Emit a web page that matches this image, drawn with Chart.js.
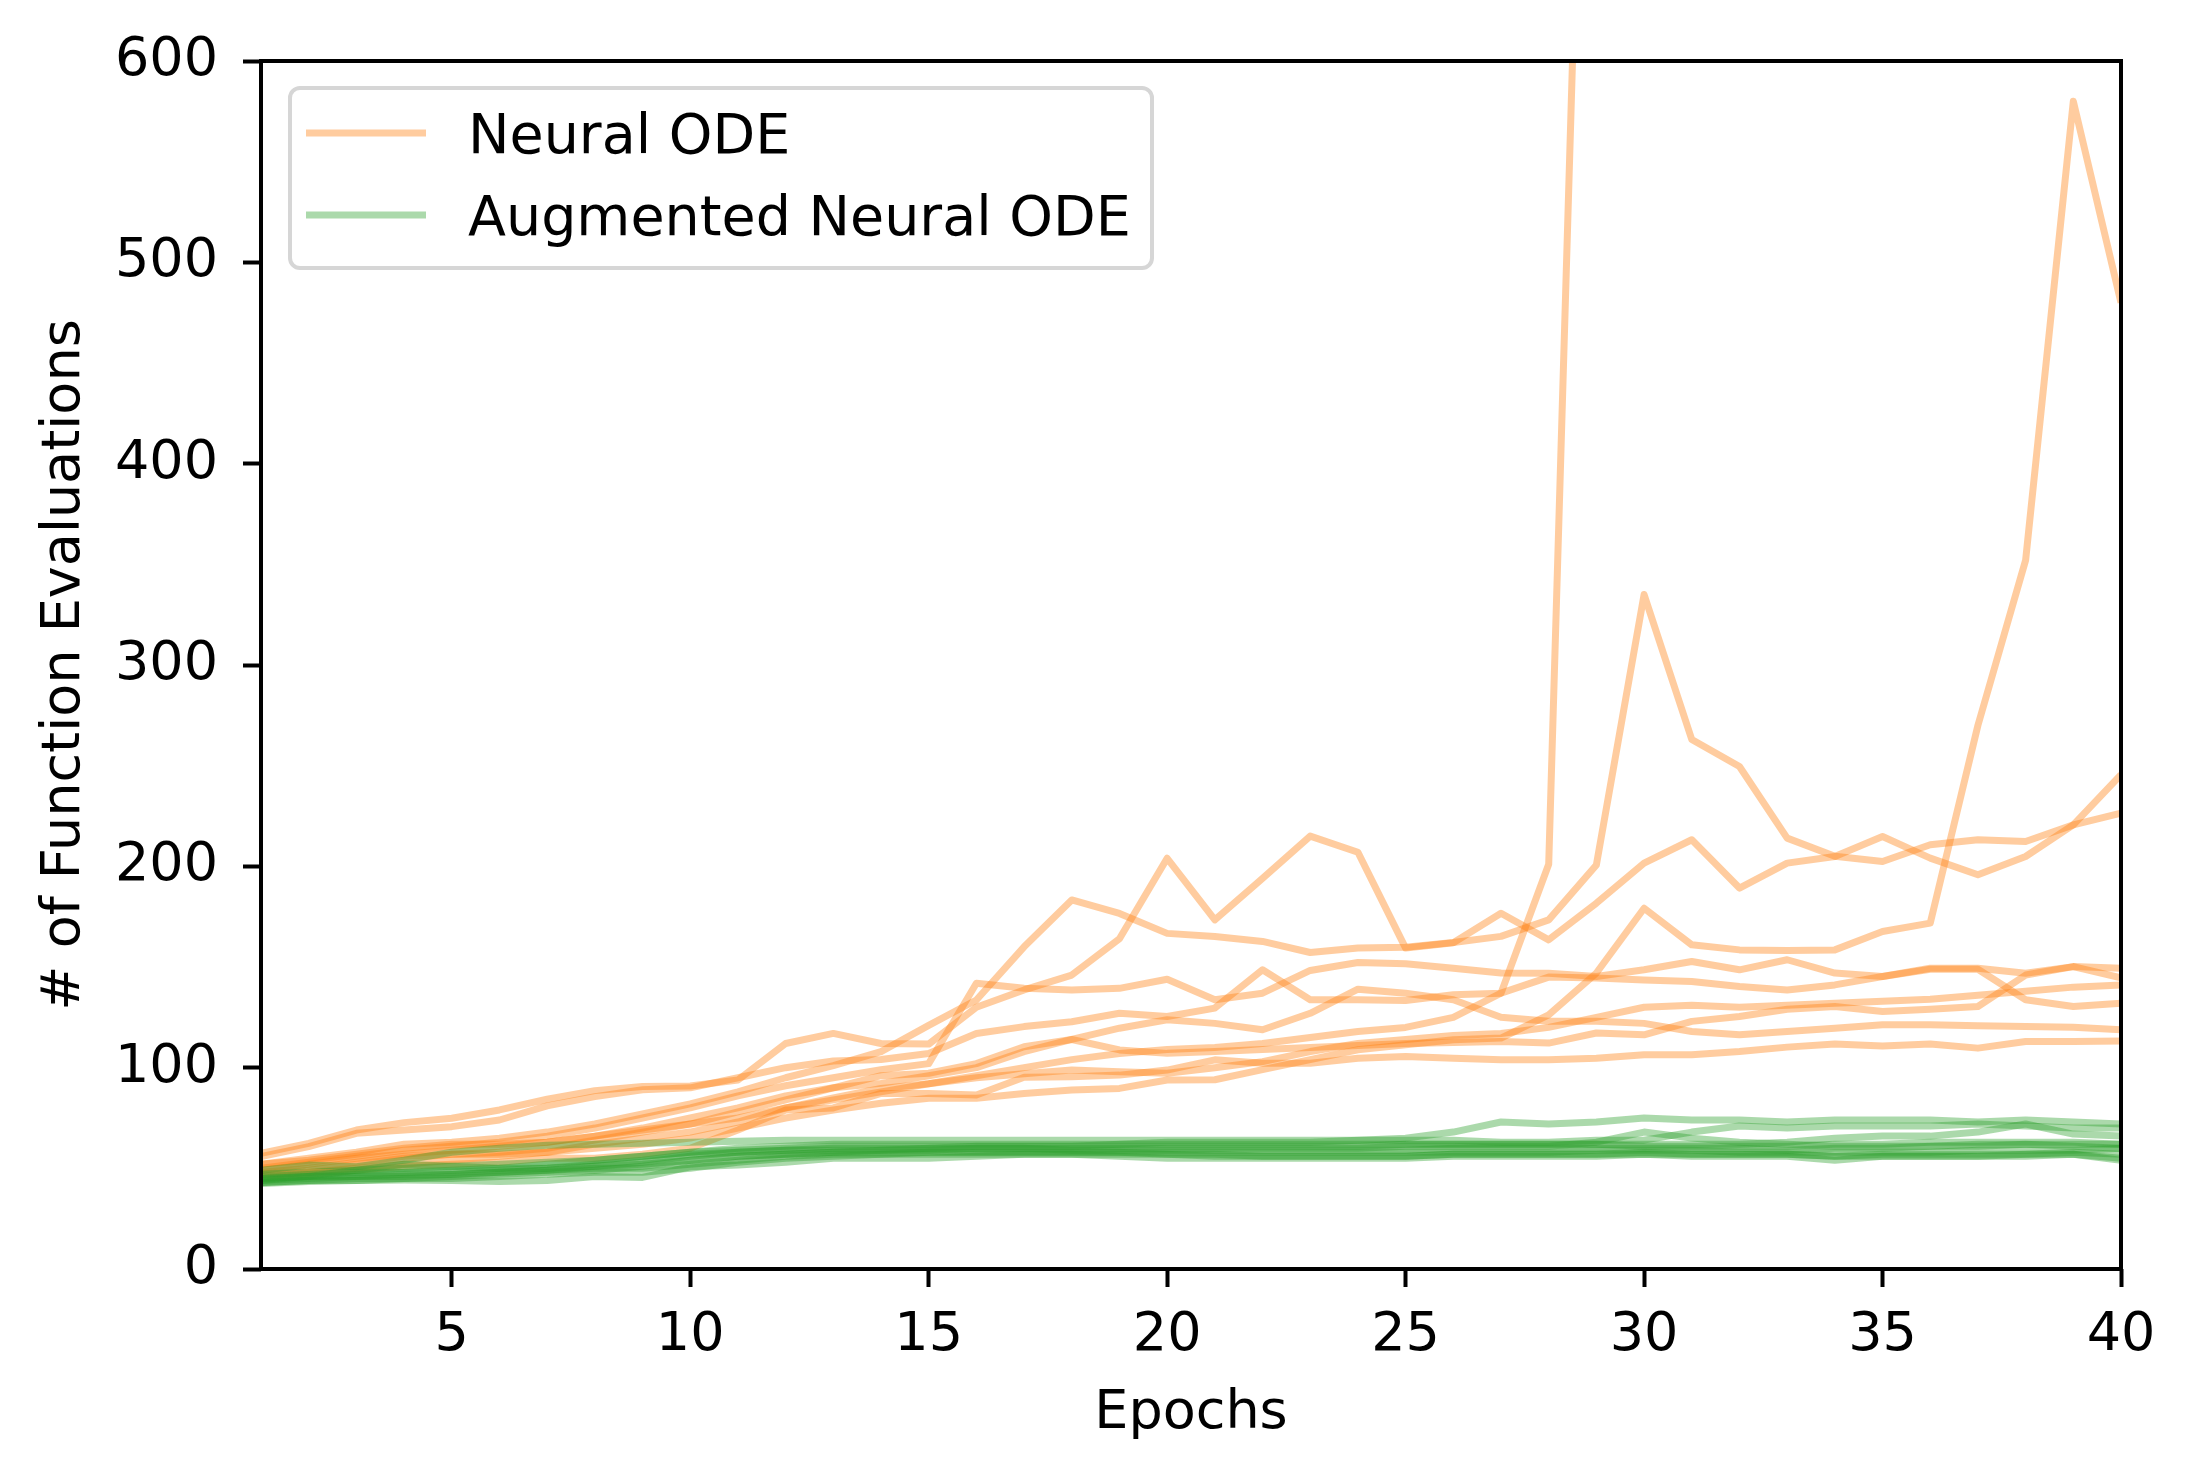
<!DOCTYPE html>
<html><head><meta charset="utf-8">
<script src="https://cdn.jsdelivr.net/npm/chart.js@4.4.0/dist/chart.umd.min.js"></script>
<style>html,body{margin:0;padding:0;background:#fff;overflow:hidden}#wrap{width:2196px;height:1478px}</style>
</head><body><div id="wrap"><canvas id="c" width="2196" height="1478"></canvas></div>
<script>
const epochs = [1,2,3,4,5,6,7,8,9,10,11,12,13,14,15,16,17,18,19,20,21,22,23,24,25,26,27,28,29,30,31,32,33,34,35,36,37,38,39,40];
const xTickValues = [5,10,15,20,25,30,35,40];
const yTickValues = [0,100,200,300,400,500,600];
const seriesNames = ["Neural ODE", "Augmented Neural ODE"];

// Neural ODE runs
const nodeRun1 = [57.5,62.4,69,72.7,74.9,79,84.3,88.6,90.6,90.9,93.9,112,117,112,111.7,130,138.6,146,164,204,173.4,194,215,207,159.4,162,176.7,163.5,181.7,201.6,213.2,189.2,201.6,204.9,214.8,204.1,195.8,204.9,220.6,245.5];
const nodeRun2 = [52,55,58,62,63,65,68,72,77,82,88,95,101,108,121,133.6,160,183.3,176.6,166.7,165.2,162.7,157.2,159.4,159.8,162.2,165.2,173.4,200.7,335,263,249.6,214,205,202.4,210.7,213.2,212.3,220.6,226.4];
const nodeRun3 = [50,53,56,59,61,63,66,70,75,80,86,91,95,99,102,141.9,139.4,138.6,139.4,143.9,133.7,137,148.3,152.2,151.6,149.4,147,146.9,145.3,148.6,152.7,148.6,153.6,147,145.3,149.4,149.4,146.9,150.2,149.4];
const nodeRun4 = [55.8,60.8,67.4,69,70.7,74,81,85.6,89,90,95,100,103.3,104.1,107,117,120.4,122.8,127,125.4,129.6,148.6,133.7,133.7,133.4,136.2,137,145,144.5,143.6,142.8,140.3,138.6,141.1,145.3,148.9,148.9,133.7,130.4,132];
const nodeRun5 = [47,49,52,55,57,58,60,64,68,72,78,84,90,96,97.2,102,110.4,114,108.8,107.1,108,109,110,111,112,112.5,113,112.2,117.2,116.3,123,125.4,129,130.4,127.9,129,130.4,146,150.2,144.6];
const nodeRun6 = [49,52,55,57,59,61,63,66,70,75,80,86,90,92.2,96,100,108,114,119.6,123.8,122,118.8,127,139,137,133.7,125,123,123,122,118,116.3,118,119.6,121.3,121.3,120.8,120.4,120.1,118.8];
const nodeRun7 = [46,48,50,52,54,56,58,62,65,68,73,80,85,89.7,92,95,97,98.8,98,97.2,100,103,108,112,114,116,117,120,125,130,131,130,131,132,133,134,136,138,140,141];
const nodeRun8 = [45,47,49,51,52,53,55,55,57,60,69,79,80,87.2,87.2,86.4,95.2,95.5,96.3,98.8,103.9,102.2,102.2,104.7,105.5,104.7,103.9,103.9,104.7,106.4,106.4,108,110.2,111.8,110.8,111.8,109.7,113,113,113.3];
const nodeRun9 = [48,50,53,56,57,57,58,60,62,65,70,75,79,82.3,84.8,84.8,87.2,88.9,89.7,93.9,94,99,104,108.9,111.4,113.9,114.7,126.2,147,179.2,161,158.5,158.2,158.5,167.6,171.8,270,352,580,480];
const nodeRun10 = [52,54,57,60,62,62,63,66,69,72,75,80,84,88,92,96,100,104,107,109,110,112,115,118,120,125,137,201,1000,1200,1100,1150,1200,1250,1300,1200,1250,1300,1350,1400];

// Augmented Neural ODE runs
const anodeRun1 = [45,46,47,48,49,50,52,54,56,58,60,61,62,62,62,62,62,62,62,63,63,63,63,64,65,68,73,72,73,75,74,74,73,74,74,74,73,74,73,72];
const anodeRun2 = [49,51.6,50.8,54,58,60,61.5,62,62.5,63,63.5,64,64,64,64,64,64,64,64,64,64,64,64,64,64,64,63,63,64,64,68,71,70,71,71,71,72,71,70,70];
const anodeRun3 = [44,45,46,46,47,48,49,51,53,56,58,59,60,60,60,61,61,61,61,61,61,61,61,61,62,62,62,62,62,62,62,62,63,65,66,66,68,72,67,66];
const anodeRun4 = [43,44,45,45,46,47,48,49,51,54,56,57,58,59,59,60,60,60,60,60,60,60,60,60,61,61,61,61,63,68,65,63,62,61,61,61,61,62,62,62];
const anodeRun5 = [46,47,48,48,48,49,50,52,54,57,58,59,59,59,60,60,60,59,59,59,59,59,59,59,59,60,60,60,60,60,60,60,59,60,60,61,62,62,61,60];
const anodeRun6 = [42.5,43.5,44,44.2,44,43.5,44,45.9,45.5,50.8,51.6,53,55,55,55,56,57,57,57,57,57,56,56,56,56,57,57,57,57,57,57,57,57,56,56,56,56,57,57,55];
const anodeRun7 = [44,46,49,52,51,50,50,51,52,54,56,57,58,58,58,58,58,58,58,58,58,58,58,58,58,58,58,58,59,59,59,58,58,58,58,58,59,59,59,60];
const anodeRun8 = [45,46,46,47,47,48,49,50,50,52,54,56,57,57,58,58,58,58,58,57,56,56,56,56,56,57,57,57,57,58,57,57,57,56,57,57,57,57,58,57];
const anodeRun9 = [43,44,44,45,45,46,47,48,48,50,53,55,56,57,57,57,57,57,56,55,55,55,55,55,55,56,56,56,56,57,56,56,56,54,56,56,56,56,57,54];
const anodeRun10 = [47,48,49,50,51,52,53,54,56,58,59,60,61,61,61,61,61,61,62,62,62,62,62,62,62,62,62,62,62,61,61,61,61,62,62,63,63,63,63,62];

const nodeRuns = [nodeRun1,nodeRun2,nodeRun3,nodeRun4,nodeRun5,nodeRun6,nodeRun7,nodeRun8,nodeRun9,nodeRun10];
const anodeRuns = [anodeRun1,anodeRun2,anodeRun3,anodeRun4,anodeRun5,anodeRun6,anodeRun7,anodeRun8,anodeRun9,anodeRun10];

const ORANGE = 'rgba(255,127,14,0.4)';
const GREEN = 'rgba(44,160,44,0.4)';
const FONT = 'DejaVu Sans';
const FS = 54;
const LEG_FS = 55.5;

function mk(run, color, label, order){
  return {
    label: label,
    data: run.map((v,i)=>({x: epochs[i], y: v})),
    borderColor: color,
    backgroundColor: color,
    borderWidth: 7,
    pointRadius: 0,
    tension: 0,
    fill: false,
    borderJoinStyle: 'round',
    borderCapStyle: 'butt',
    order: order
  };
}
const datasets = [];
nodeRuns.forEach(r=>datasets.push(mk(r, ORANGE, seriesNames[0], 2)));
anodeRuns.forEach(r=>datasets.push(mk(r, GREEN, seriesNames[1], 1)));

const decor = {
  id: 'decor',
  afterDraw(chart){
    const {ctx, chartArea: a} = chart;
    ctx.save();
    // frame
    ctx.strokeStyle = '#000';
    ctx.lineWidth = 4;
    ctx.strokeRect(a.left, a.top, a.right - a.left, a.bottom - a.top);
    // legend
    const lx = a.left + 29, ly = a.top + 27, lw = 862, lh = 180, r = 10;
    ctx.beginPath();
    ctx.moveTo(lx + r, ly);
    ctx.arcTo(lx + lw, ly, lx + lw, ly + lh, r);
    ctx.arcTo(lx + lw, ly + lh, lx, ly + lh, r);
    ctx.arcTo(lx, ly + lh, lx, ly, r);
    ctx.arcTo(lx, ly, lx + lw, ly, r);
    ctx.closePath();
    ctx.fillStyle = 'rgba(255,255,255,0.8)';
    ctx.fill();
    ctx.strokeStyle = '#d6d6d6';
    ctx.lineWidth = 4;
    ctx.stroke();
    const items = [[seriesNames[0], ORANGE, ly + 45], [seriesNames[1], GREEN, ly + 127]];
    ctx.font = LEG_FS + 'px "' + FONT + '"';
    ctx.textBaseline = 'middle';
    ctx.textAlign = 'left';
    items.forEach(([t, c, y])=>{
      ctx.strokeStyle = c;
      ctx.lineWidth = 7;
      ctx.beginPath();
      ctx.moveTo(lx + 16, y);
      ctx.lineTo(lx + 136, y);
      ctx.stroke();
      ctx.fillStyle = '#000';
      ctx.fillText(t, lx + 178, y + 6);
    });
    // axis titles
    ctx.font = FS + 'px "' + FONT + '"';
    ctx.fillStyle = '#000';
    ctx.textAlign = 'center';
    ctx.textBaseline = 'middle';
    ctx.fillText('Epochs', (a.left + a.right) / 2, 1414);
    ctx.translate(65, (a.top + a.bottom) / 2);
    ctx.rotate(-Math.PI / 2);
    ctx.fillText('# of Function Evaluations', 0, 0);
    ctx.restore();
  }
};

new Chart(document.getElementById('c'), {
  type: 'line',
  data: { datasets: datasets },
  options: {
    responsive: false,
    animation: false,
    devicePixelRatio: 1,
    layout: { padding: { top: 61, right: 75, left: 0, bottom: 0 } },
    plugins: { legend: { display: false }, tooltip: { enabled: false }, title: { display: false } },
    elements: { line: { borderWidth: 7 } },
    scales: {
      x: {
        type: 'linear', min: 1, max: 40,
        afterBuildTicks: s => { s.ticks = xTickValues.map(v => ({ value: v })); },
        afterFit: s => { s.height = 209; },
        grid: { display: true, drawOnChartArea: false, drawTicks: true, tickLength: 18, tickWidth: 4, tickColor: '#000' },
        border: { display: false },
        ticks: { color: '#000', font: { family: FONT, size: FS }, padding: 17, maxRotation: 0, autoSkip: false }
      },
      y: {
        type: 'linear', min: 0, max: 600,
        afterBuildTicks: s => { s.ticks = yTickValues.map(v => ({ value: v })); },
        afterFit: s => { s.width = 261; },
        grid: { display: true, drawOnChartArea: false, drawTicks: true, tickLength: 18, tickWidth: 4, tickColor: '#000' },
        border: { display: false },
        ticks: { color: '#000', font: { family: FONT, size: FS }, padding: 25, autoSkip: false }
      }
    }
  },
  plugins: [decor]
});
</script>
</body></html>
